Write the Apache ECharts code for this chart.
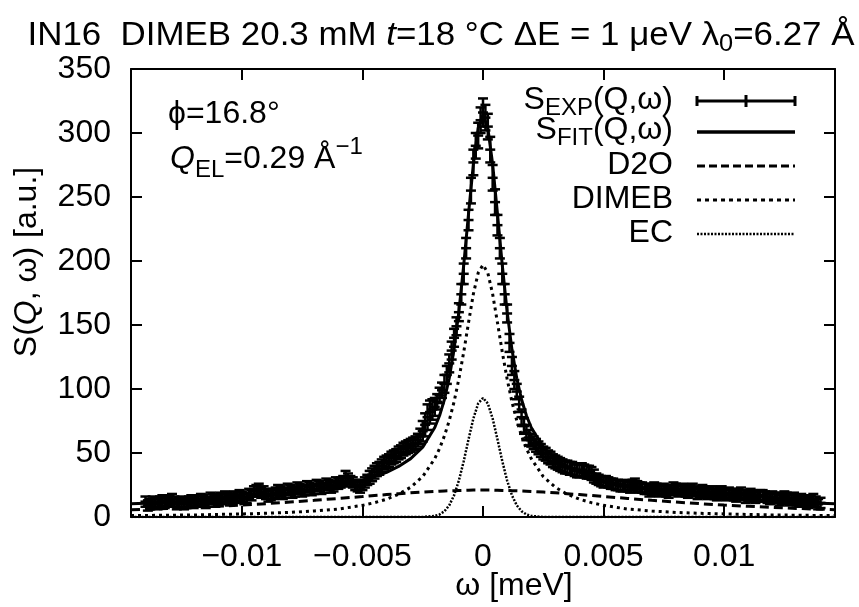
<!DOCTYPE html>
<html><head><meta charset="utf-8">
<script src="https://cdn.jsdelivr.net/npm/echarts@6/dist/echarts.min.js"></script>
<style>html,body{margin:0;padding:0;background:#fff}#c{width:859px;height:607px}</style>
</head><body><div id="c"></div>
<script>
// ---- data (omega in meV) ----
const expX = [
-0.0140,-0.0139,-0.0138,-0.0137,-0.0136,-0.0135,-0.0134,-0.0133,-0.0132,-0.0131,
-0.0130,-0.0129,-0.0128,-0.0127,-0.0126,-0.0125,-0.0124,-0.0123,-0.0122,-0.0121,
-0.0120,-0.0119,-0.0118,-0.0117,-0.0116,-0.0115,-0.0114,-0.0113,-0.0112,-0.0111,
-0.0110,-0.0109,-0.0108,-0.0107,-0.0106,-0.0105,-0.0104,-0.0103,-0.0102,-0.0101,
-0.0100,-0.0099,-0.0098,-0.0097,-0.0096,-0.0095,-0.0094,-0.0093,-0.0092,-0.0091,
-0.0090,-0.0089,-0.0088,-0.0087,-0.0086,-0.0085,-0.0084,-0.0083,-0.0082,-0.0081,
-0.0080,-0.0079,-0.0078,-0.0077,-0.0076,-0.0075,-0.0074,-0.0073,-0.0072,-0.0071,
-0.0070,-0.0069,-0.0068,-0.0067,-0.0066,-0.0065,-0.0064,-0.0063,-0.0062,-0.0061,
-0.0060,-0.0059,-0.0058,-0.0057,-0.0056,-0.0055,-0.0054,-0.0053,-0.0052,-0.0051,
-0.0050,-0.0049,-0.0048,-0.0047,-0.0046,-0.0045,-0.0044,-0.0043,-0.0042,-0.0041,
-0.0040,-0.0039,-0.0038,-0.0037,-0.0036,-0.0035,-0.0034,-0.0033,-0.0032,-0.0031,
-0.0030,-0.0029,-0.0028,-0.0027,-0.0026,-0.0025,-0.0024,-0.0023,-0.0022,-0.0021,
-0.0020,-0.0019,-0.0018,-0.0017,-0.0016,-0.0015,-0.0014,-0.0013,-0.0012,-0.0011,
-0.0010,-0.0009,-0.0008,-0.0007,-0.0006,-0.0005,-0.0004,-0.0003,-0.0002,-0.0001,
0,
0.0001,0.0002,0.0003,0.0004,0.0005,0.0006,0.0007,0.0008,0.0009,0.0010,
0.0011,0.0012,0.0013,0.0014,0.0015,0.0016,0.0017,0.0018,0.0019,0.0020,
0.0021,0.0022,0.0023,0.0024,0.0025,0.0026,0.0027,0.0028,0.0029,0.0030,
0.0031,0.0032,0.0033,0.0034,0.0035,0.0036,0.0037,0.0038,0.0039,0.0040,
0.0041,0.0042,0.0043,0.0044,0.0045,0.0046,0.0047,0.0048,0.0049,0.0050,
0.0051,0.0052,0.0053,0.0054,0.0055,0.0056,0.0057,0.0058,0.0059,0.0060,
0.0061,0.0062,0.0063,0.0064,0.0065,0.0066,0.0067,0.0068,0.0069,0.0070,
0.0071,0.0072,0.0073,0.0074,0.0075,0.0076,0.0077,0.0078,0.0079,0.0080,
0.0081,0.0082,0.0083,0.0084,0.0085,0.0086,0.0087,0.0088,0.0089,0.0090,
0.0091,0.0092,0.0093,0.0094,0.0095,0.0096,0.0097,0.0098,0.0099,0.0100,
0.0101,0.0102,0.0103,0.0104,0.0105,0.0106,0.0107,0.0108,0.0109,0.0110,
0.0111,0.0112,0.0113,0.0114,0.0115,0.0116,0.0117,0.0118,0.0119,0.0120,
0.0121,0.0122,0.0123,0.0124,0.0125,0.0126,0.0127,0.0128,0.0129,0.0130,
0.0131,0.0132,0.0133,0.0134,0.0135,0.0136,0.0137,0.0138,0.0139,0.0140];
const expY = [
12,9,10,12,11,10,12,13,11,12,
13,14,12,10,11,12,10,11,12,13,
11,13,12,14,13,11,12,15,14,12,
13,15,14,16,15,13,14,16,15,17,
16,14,15,18,17,20,21,22,19,20,
18,16,17,18,19,21,20,18,19,22,
21,19,20,23,22,20,21,24,23,21,
22,25,24,22,23,26,25,23,24,27,
26,27,28,31,30,28,27,25,24,23,
25,27,29,31,33,35,37,38,40,42,
43,44,46,47,48,50,51,53,54,55,
56,57,58,60,63,67,72,78,82,84,
86,90,95,99,104,111,120,130,140,149,
160,174,190,210,232,255,277,290,298,310,
316,
312,305,287,265,246,228,210,190,174,159,
136,118,107,98,88,78,71,66,62,60,
58,56,54,52,50,49,47,46,44,43,
42,41,40,39,39,38,38,37,36,36,
37,36,35,35,34,32,30,29,28,27,
28,27,26,26,25,25,24,24,25,24,
23,25,26,24,23,23,22,22,20,21,
23,22,20,21,22,20,19,21,23,22,
20,21,22,20,19,21,22,20,18,19,
21,20,18,19,20,18,17,19,20,18,
17,19,18,17,16,18,19,17,15,16,
18,17,15,16,17,17,16,15,14,16,
15,15,13,14,16,15,13,14,15,13,
12,14,13,12,11,13,14,12,10,11];
const expErr = [
4,4,4,4,4,4,4,4,4,4,
4,4,4,4,4,4,4,4,4,4,
4,4,4,4,4,4,4,4,4,4,
4,4,4,4,4,4,4,4,4,4,
4,4,4,4,4,4,4,4,4,4,
4,4,4,4,4,4,4,4,4,4,
4,4,4,4,4,4,4,4,4,4,
4,4,4,4,4,4,4,4,4,4,
4,4,4,5,4,4,4,4,4,4,
4,4,4,5,5,5,5,5,5,5,
5,5,5,5,5,5,5,5,5,5,
5,5,5,5,6,8,9,10,9,8,
7,6,6,6,7,7,7,7,7,7,
7,8,8,8,8,10,10,10,10,10,
11,
10,10,10,10,10,8,8,8,8,7,
7,7,7,6,6,6,6,6,6,5,
5,5,5,5,5,5,5,5,5,5,
5,5,5,5,5,5,5,5,5,5,
5,5,5,5,5,5,4,4,4,4,
4,4,4,4,4,4,4,4,4,4,
4,4,4,4,4,4,4,4,4,4,
4,4,4,4,4,4,4,4,4,4,
4,4,4,4,4,4,4,4,4,4,
4,4,4,4,4,4,4,4,4,4,
4,4,4,4,4,4,4,4,4,4,
4,4,4,4,4,4,4,4,4,4,
4,4,4,4,4,4,4,4,4,4,
4,4,4,4,4,4,4,4,4,4];
const fitX = [-0.0146,-0.014,-0.013,-0.012,-0.011,-0.010,-0.009,-0.008,-0.007,-0.006,-0.005,-0.0045,-0.004,-0.0035,-0.003,-0.0025,-0.002,-0.0018,-0.0016,-0.0014,-0.0012,-0.001,-0.0008,-0.0006,-0.0004,-0.0002,0,0.0002,0.0004,0.0006,0.0008,0.001,0.0012,0.0014,0.0016,0.0018,0.002,0.0025,0.003,0.0035,0.004,0.0045,0.005,0.006,0.007,0.008,0.009,0.010,0.011,0.012,0.013,0.014,0.0146];
const fitY = [10.3,10.8,11.6,12.6,13.9,15.2,16.8,18.8,21.2,24.2,28.6,31.5,34.9,39.5,45.6,54.6,69.9,79.3,91.8,108.4,131,160.6,196.7,237,275.6,303.9,314.5,303.9,275.6,237,196.7,160.6,131,108.4,91.8,79.3,69.9,54.6,45.6,39.5,34.9,31.5,28.6,24.2,21.2,18.8,16.8,15.2,13.9,12.6,11.6,10.8,10.3];
const d2oY = [5.7,6.1,6.7,7.5,8.4,9.3,10.4,11.7,13,14.5,16,16.8,17.5,18.2,18.9,19.5,20,20.2,20.4,20.5,20.6,20.7,20.8,20.9,21,21,21,21,21,20.9,20.8,20.7,20.6,20.5,20.4,20.2,20,19.5,18.9,18.2,17.5,16.8,16,14.5,13,11.7,10.4,9.3,8.4,7.5,6.7,6.1,5.7];
const dimebY = [1.1,1.2,1.4,1.6,2.0,2.4,2.9,3.6,4.7,6.2,9.1,11.2,13.9,17.8,23.2,31.6,45.6,53.6,63.4,75.3,90,107.9,128.8,151.9,174.2,190.7,197,190.7,174.2,151.9,128.8,107.9,90,75.3,63.4,53.6,45.6,31.6,23.2,17.8,13.9,11.2,9.1,6.2,4.7,3.6,2.9,2.4,2.0,1.6,1.4,1.2,1.1];
const ecY = [0,0,0,0,0,0,0,0,0,0,0,0,0,0,0,0.05,0.8,2,4.5,9.1,16.9,28.5,43.6,60.7,76.9,88.7,93,88.7,76.9,60.7,43.6,28.5,16.9,9.1,4.5,2,0.8,0.05,0,0,0,0,0,0,0,0,0,0,0,0,0,0,0];
const xTicks = [-0.01,-0.005,0,0.005,0.01];
const xTickLabels = ['\u22120.01','\u22120.005','0','0.005','0.01'];

const FONT = "'Liberation Sans', Arial, Helvetica, sans-serif";
const blk = '#000';
const mctx = document.createElement('canvas').getContext('2d');
const fontStr = (size, it) => (it ? 'italic ' : '') + size + 'px ' + FONT;
const measure = (t, size, it) => { mctx.font = fontStr(size, it); return mctx.measureText(t).width; };

// segments: [text, size, italic, dy(down, relative to baseline)]
function textLine(segs, x, baseline, align, targetWidth) {
  let w = 0; const kids = [];
  segs.forEach(s => {
    kids.push({type:'text', x:w, y:-0.35*s[1] + (s[3]||0),
      style:{text:s[0], fontSize:s[1], fontFamily:FONT, fontStyle:s[2]?'italic':'normal', fill:blk, align:'left', verticalAlign:'middle'}});
    w += measure(s[0], s[1], s[2]);
  });
  const sc = targetWidth ? targetWidth / w : 1;
  const off = align === 'right' ? -w : align === 'center' ? -w/2 : 0;
  kids.forEach(k => { k.x += off; });
  return {type:'group', x:x, y:baseline, scaleX:sc, children:kids};
}

const graphics = [];
graphics.push(textLine([['IN16  DIMEB 20.3 mM ',33],['t',33,true],['=18 \u00b0C \u0394E = 1 \u03bceV \u03bb',33],['0',24,false,6],['=6.27 \u00c5',33]], 441, 47, 'center', 827));
graphics.push(textLine([['\u03d5=16.8\u00b0',32]], 168, 125, 'left'));
graphics.push(textLine([['Q',32,true],['EL',24,false,9],['=0.29 \u00c5',32],['\u22121',24,false,-14]], 170, 170, 'left'));
graphics.push(textLine([['\u03c9 [meV]',32]], 514, 597, 'center'));
graphics.push({type:'text', x:27, y:262, rotation:Math.PI/2, style:{text:'{m|S(}{q|Q}{m|, \u03c9) [a.u.]}',
  rich:{m:{fontSize:32, fontFamily:FONT, color:blk}, q:{fontSize:32, fontFamily:FONT, color:blk, fontStyle:'italic'}}, align:'center', verticalAlign:'middle'}});
const legBase = [111, 141, 176, 210, 244];
const legY = [101, 132, 166, 200, 234];
const legendTexts = [
  [['S',32],['EXP',24,false,6],['(Q,\u03c9)',32]],
  [['S',32],['FIT',24,false,6],['(Q,\u03c9)',32]],
  [['D2O',32]], [['DIMEB',32]], [['EC',32]]
];
legendTexts.forEach((t,k) => graphics.push(textLine(t, 673, legBase[k], 'right')));
const LX1 = 697, LX2 = 795;
const ls = (x1,y1,x2,y2,w,dash)=>({type:'line', shape:{x1,y1,x2,y2}, style:{stroke:blk, lineWidth:w, lineDash:dash||null}});
graphics.push(ls(LX1,legY[0],LX2,legY[0],3));
graphics.push(ls(LX1,legY[0]-5,LX1,legY[0]+5,3));
graphics.push(ls(LX2,legY[0]-5,LX2,legY[0]+5,3));
graphics.push(ls(746,legY[0]-6,746,legY[0]+6,3));
graphics.push(ls(LX1,legY[1],LX2,legY[1],3.5));
graphics.push(ls(LX1,legY[2],LX2,legY[2],3,[8,4]));
graphics.push(ls(LX1,legY[3],LX2,legY[3],3,[4,4]));
graphics.push(ls(LX1,legY[4],LX2,legY[4],2.5,[2,1.5]));

const tickLabel = v => { const i = xTicks.findIndex(t=>Math.abs(t-v)<1e-9); return i>=0 ? xTickLabels[i] : ''; };
const axLine = {show:true, onZero:false, lineStyle:{color:blk, width:2}};
const axTick = {show:true, inside:true, length:11, lineStyle:{color:blk, width:2}};

const chart = echarts.init(document.getElementById('c'), null, {renderer:'canvas'});
const pair = (xs, ys) => xs.map((x,i)=>[x, ys[i]]);
const option = {
  animation:false,
  backgroundColor:'#fff',
  grid:{left:131, right:24, top:69, bottom:90, containLabel:false},
  xAxis:[
    {type:'value', min:-0.0146, max:0.0146, position:'bottom', axisLine:axLine,
     axisTick:Object.assign({}, axTick, {customValues:xTicks}),
     axisLabel:{customValues:xTicks, formatter:tickLabel, fontSize:32, fontFamily:FONT, color:blk, margin:24},
     splitLine:{show:false}},
    {type:'value', min:-0.0146, max:0.0146, position:'top', axisLine:axLine,
     axisTick:Object.assign({}, axTick, {customValues:xTicks}),
     axisLabel:{show:false}, splitLine:{show:false}}
  ],
  yAxis:[
    {type:'value', min:0, max:350, interval:50, position:'left', axisLine:axLine, axisTick:axTick,
     axisLabel:{fontSize:32, fontFamily:FONT, color:blk, margin:20}, splitLine:{show:false}},
    {type:'value', min:0, max:350, interval:50, position:'right', axisLine:axLine, axisTick:axTick,
     axisLabel:{show:false}, splitLine:{show:false}}
  ],
  graphic: graphics,
  series:[
    {type:'custom', name:'S_EXP', clip:true, data: expX.map((x,i)=>[x, expY[i], expErr[i]]),
     renderItem:(params, api)=>{
       const x = api.value(0), y = api.value(1), e = api.value(2);
       const t = api.coord([x, y+e]), b = api.coord([x, y-e]), c = api.coord([x, y]);
       const w = 5, st = {stroke:blk, lineWidth:2.5};
       return {type:'group', children:[
         {type:'line', shape:{x1:t[0],y1:t[1],x2:b[0],y2:b[1]}, style:st},
         {type:'line', shape:{x1:t[0]-w,y1:t[1],x2:t[0]+w,y2:t[1]}, style:st},
         {type:'line', shape:{x1:b[0]-w,y1:b[1],x2:b[0]+w,y2:b[1]}, style:st},
         {type:'line', shape:{x1:c[0]-w,y1:c[1],x2:c[0]+w,y2:c[1]}, style:st}
       ]};
     }},
    {type:'line', name:'S_FIT', data:pair(fitX, fitY), showSymbol:false, symbol:'none', lineStyle:{color:blk, width:3}},
    {type:'line', name:'D2O', data:pair(fitX, d2oY), showSymbol:false, symbol:'none', lineStyle:{color:blk, width:3, type:[9,5]}},
    {type:'line', name:'DIMEB', data:pair(fitX, dimebY), showSymbol:false, symbol:'none', lineStyle:{color:blk, width:3, type:[3,4]}},
    {type:'line', name:'EC', data:pair(fitX, ecY), showSymbol:false, symbol:'none', lineStyle:{color:blk, width:2.5, type:[2,1.5]}}
  ]
};
chart.setOption(option);
</script></body></html>
